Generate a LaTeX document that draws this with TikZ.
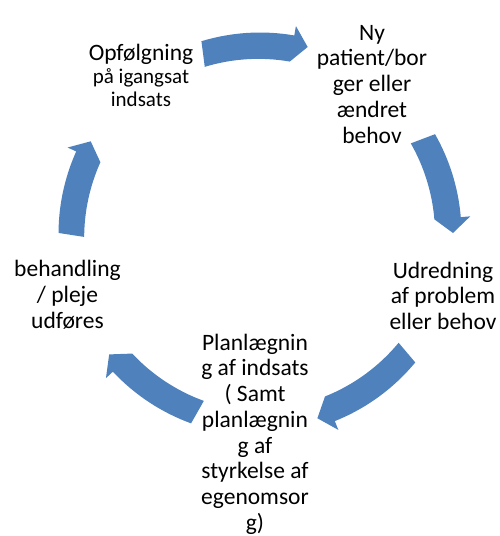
\documentclass[tikz,border=0pt]{standalone}
\usepackage{fontspec}
\setmainfont{Carlito}
\definecolor{arrowblue}{HTML}{4F81BD}
\newcommand\cyclearrow[2]{%
  \pgfmathsetmacro\cyb{#2-4.5*sign(#2-#1)}%
  \fill[arrowblue] (#1:201.5pt) arc[start angle=#1, end angle=\cyb, radius=201.5pt]
    -- (\cyb:211pt) -- (#2:193pt) -- (\cyb:175pt)
    arc[start angle=\cyb, end angle=#1, radius=184.5pt] -- cycle;
}
\tikzset{
  lbl/.style={text width=170pt, align=flush center, inner sep=0pt, anchor=base,
    font=\fontsize{23.5}{25.75}\selectfont},
  lblsmall/.style={lbl, font=\fontsize{21}{23.3}\selectfont}
}
\begin{document}
\begin{tikzpicture}[x=1pt,y=1pt]
\path[use as bounding box] (0,0) rectangle (500,-536);
\begin{scope}[shift={(260,-234)}]
  \cyclearrow{106.9}{75.7}
  \cyclearrow{29.7}{0.3}
  \cyclearrow{-39.6}{-72.7}
  \cyclearrow{-110}{-141.4}
  \cyclearrow{179.7}{151.3}
\end{scope}
\node[lbl] (ny) at (372,-40) {Ny\\patient/bor\\ger eller\\ændret\\behov};
\node[lbl] (udred) at (443,-278) {Udredning\\af problem\\eller behov};
\node[lbl] (plan) at (255,-350) {Planlægnin\\g af indsats\\( Samt\\planlægnin\\g af\\styrkelse af\\egenomsor\\g)};
\node[lbl] (behand) at (67.5,-276.7) {behandling\\/ pleje\\udføres};
\node[lblsmall] (opf) at (141,-60) {{\fontsize{23.5}{23.3}\selectfont Opfølgning}\\på igangsat\\indsats};
\end{tikzpicture}
\end{document}
